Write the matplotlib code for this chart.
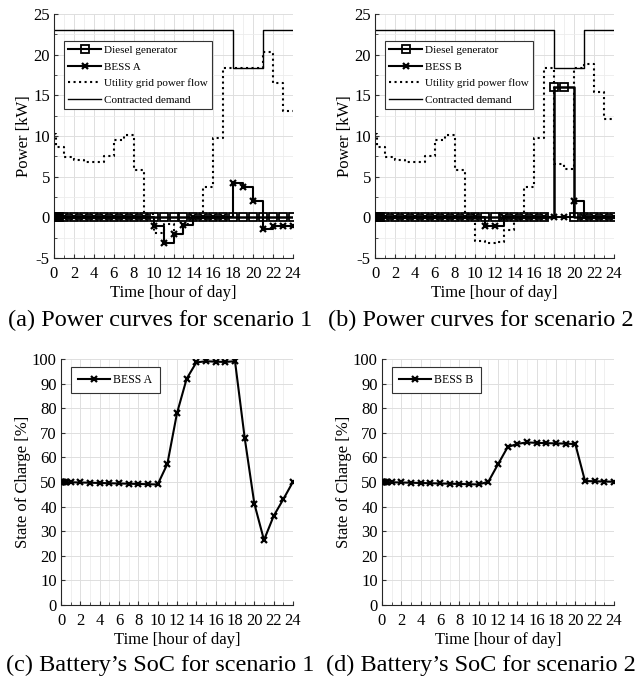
import numpy as np
import matplotlib as mpl
mpl.use('Agg')
import matplotlib.pyplot as plt
import matplotlib.ticker as tick

plt.rcParams['font.family'] = ['Liberation Serif', 'DejaVu Serif']
plt.rcParams['axes.unicode_minus'] = False

#--------------------------------------------------------------------------------------------------------
# data

hours = [0, 0.125, 0.25, 0.375, 0.5, 1, 2, 3, 4, 5, 6, 7, 8, 9, 10, 11, 12,
         13, 14, 15, 16, 17, 18, 19, 20, 21, 22, 23, 24]

grid_s1 = [10.3, 10.3, 8.6, 8.6, 8.6, 7.4, 7.0, 6.85, 6.85, 7.5, 9.5, 10.1, 5.8, 0.35,
           -1.9, -0.8, -2.0, -0.8, -0.1, 3.7, 9.8, 18.4, 18.4, 18.4, 18.4, 20.3, 16.5, 13.1, 13.1]
grid_s2 = [10.3, 10.3, 8.6, 8.6, 8.6, 7.4, 7.0, 6.85, 6.85, 7.5, 9.5, 10.1, 5.8, 0.35,
           -2.9, -3.1, -3.0, -1.5, -0.25, 3.7, 9.8, 18.4, 6.6, 6.0, 18.4, 18.8, 15.4, 12.1, 12.1]

diesel_s1 = [0, 0, 0, 0, 0, 0, 0, 0, 0, 0, 0, 0, 0, 0,
             0, 0, 0, 0, 0, 0, 0, 0, 0, 0, 0, 0, 0, 0, 0]
diesel_s2 = [0, 0, 0, 0, 0, 0, 0, 0, 0, 0, 0, 0, 0, 0,
             0, 0, 0, 0, 0, 0, 0, 0, 16, 16, 0, 0, 0, 0, 0]

bess_a = [0, 0, 0, 0, 0, 0, 0, 0, 0, 0, 0, 0, 0, 0,
          -1.1, -3.2, -2.1, -0.95, 0, 0, 0, 0, 4.25, 3.7, 2.05, -1.45, -1.05, -1.05, -1.05]
bess_b = [0, 0, 0, 0, 0, 0, 0, 0, 0, 0, 0, 0, 0, 0,
          0, -1.1, -1.1, 0, 0, 0, 0, 0, 0, 0, 2.0, 0, 0, 0, 0]

contracted = [23, 23, 23, 23, 23, 23, 23, 23, 23, 23, 23, 23, 23, 23,
              23, 23, 23, 23, 23, 23, 23, 23, 18.4, 18.4, 18.4, 23, 23, 23, 23]

soc_a = [50, 50, 50, 50, 50, 49.9, 49.8, 49.7, 49.6, 49.5, 49.4, 49.3, 49.2, 49.1,
         49.0, 57.3, 78.0, 92.0, 98.6, 99.1, 98.9, 98.8, 99.1, 68.0, 41.2, 26.4, 36.2, 43.0, 50.1]
soc_b = [50, 50, 50, 50, 50, 49.9, 49.8, 49.7, 49.6, 49.5, 49.4, 49.3, 49.2, 49.1,
         49.0, 50.1, 57.2, 64.2, 65.5, 66.1, 65.9, 65.8, 65.7, 65.6, 65.4, 50.4, 50.3, 50.2, 50.1]

#--------------------------------------------------------------------------------------------------------

FS_TICK = 12
FS_LEG = 8
FS_CAP = 17.5

def style_axes(ax, ymin, ymax, ymaj, ymin_step):
    ax.set_xlim(0, 24)
    ax.set_ylim(ymin, ymax)
    ax.xaxis.set_major_locator(tick.MultipleLocator(2))
    ax.xaxis.set_minor_locator(tick.MultipleLocator(1))
    ax.yaxis.set_major_locator(tick.MultipleLocator(ymaj))
    if ymin_step:
        ax.yaxis.set_minor_locator(tick.MultipleLocator(ymin_step))
    ax.grid(True, which='major', color='#dedede', linewidth=0.7)
    ax.grid(True, which='minor', color='#ececec', linewidth=0.6)
    ax.set_axisbelow(True)
    ax.tick_params(which='both', direction='in', labelsize=FS_TICK, color='#333333',
                   top=False, right=False)
    ax.tick_params(axis='x', which='both', pad=6)
    ax.tick_params(axis='y', which='both', pad=3)
    ax.tick_params(which='major', length=3)
    ax.tick_params(which='minor', length=2)
    ax.spines['top'].set_visible(False)
    ax.spines['right'].set_visible(False)
    for s in ('left', 'bottom'):
        ax.spines[s].set_color('#262626')
        ax.spines[s].set_linewidth(0.8)
    ax.set_xlabel("Time [hour of day]", fontsize=FS_TICK, labelpad=2)

def power_plot(ax, diesel, bess, grid, bess_name):
    ax.step(hours, grid, where='post', color='k', linestyle=':', linewidth=1.5, zorder=2)
    ax.step(hours, contracted, where='post', color='k', linewidth=1.0, zorder=2)
    ax.step(hours, bess, where='post', color='k', linewidth=1.5, zorder=3)
    ax.plot(hours, bess, color='k', linestyle='none', marker='x', markersize=5,
            markeredgewidth=1.6, zorder=4)
    ax.step(hours, diesel, where='post', color='k', linewidth=1.8, zorder=5)
    ax.plot(hours, diesel, color='k', linestyle='none', marker='s', markersize=5.5,
            markerfacecolor='none', markeredgewidth=1.3, zorder=6)
    # legend proxies
    hd, = ax.plot([], [], color='k', linewidth=1.5, marker='s', markersize=5.5,
                  markerfacecolor='none', markeredgewidth=1.3)
    hb, = ax.plot([], [], color='k', linewidth=1.5, marker='x', markersize=5,
                  markeredgewidth=1.6)
    hg, = ax.plot([], [], color='k', linestyle=':', linewidth=1.5)
    hc, = ax.plot([], [], color='k', linewidth=1.0)
    leg = ax.legend([hd, hb, hg, hc],
                    ["Diesel generator", bess_name, "Utility grid power flow", "Contracted demand"],
                    loc='upper left', bbox_to_anchor=(0.042, 0.889), fontsize=FS_LEG,
                    handlelength=2.9, borderpad=0.4, labelspacing=0.6, handletextpad=0.3,
                    fancybox=False, framealpha=1, edgecolor='#333333', borderaxespad=0)
    leg.get_frame().set_linewidth(0.8)
    style_axes(ax, -5, 25, 5, 2.5)
    ax.set_ylabel("Power [kW]", fontsize=FS_TICK, labelpad=1)

def soc_plot(ax, soc, bess_name):
    ax.plot(hours, soc, color='k', linewidth=1.5, marker='x', markersize=5,
            markeredgewidth=1.6, label=bess_name, zorder=3)
    leg = ax.legend(loc='upper left', bbox_to_anchor=(0.043, 0.967), fontsize=FS_LEG + 0.5,
                    handlelength=2.7, borderpad=0.6, handletextpad=0.3,
                    fancybox=False, framealpha=1, edgecolor='#333333', borderaxespad=0)
    leg.get_frame().set_linewidth(0.8)
    style_axes(ax, 0, 100, 10, None)
    ax.set_ylabel("State of Charge [%]", fontsize=FS_TICK, labelpad=1)

fig = plt.figure(figsize=(6.42, 6.79), dpi=100)
ax1 = fig.add_axes([54/642, 1-258/679, 239/642, 244/679])
ax2 = fig.add_axes([375/642, 1-258/679, 239/642, 244/679])
ax3 = fig.add_axes([61/642, 1-605/679, 232/642, 246/679])
ax4 = fig.add_axes([382/642, 1-605/679, 232/642, 246/679])

power_plot(ax1, diesel_s1, bess_a, grid_s1, "BESS A")
power_plot(ax2, diesel_s2, bess_b, grid_s2, "BESS B")
soc_plot(ax3, soc_a, "BESS A")
soc_plot(ax4, soc_b, "BESS B")

fig.text(160/642, 1-320/679, "(a) Power curves for scenario 1", fontsize=FS_CAP, ha='center', va='center')
fig.text(481/642, 1-320/679, "(b) Power curves for scenario 2", fontsize=FS_CAP, ha='center', va='center')
fig.text(160/642, 1-665/679, "(c) Battery\u2019s SoC for scenario 1", fontsize=FS_CAP, ha='center', va='center')
fig.text(481/642, 1-665/679, "(d) Battery\u2019s SoC for scenario 2", fontsize=FS_CAP, ha='center', va='center')

plt.savefig("out.png", dpi=100)
